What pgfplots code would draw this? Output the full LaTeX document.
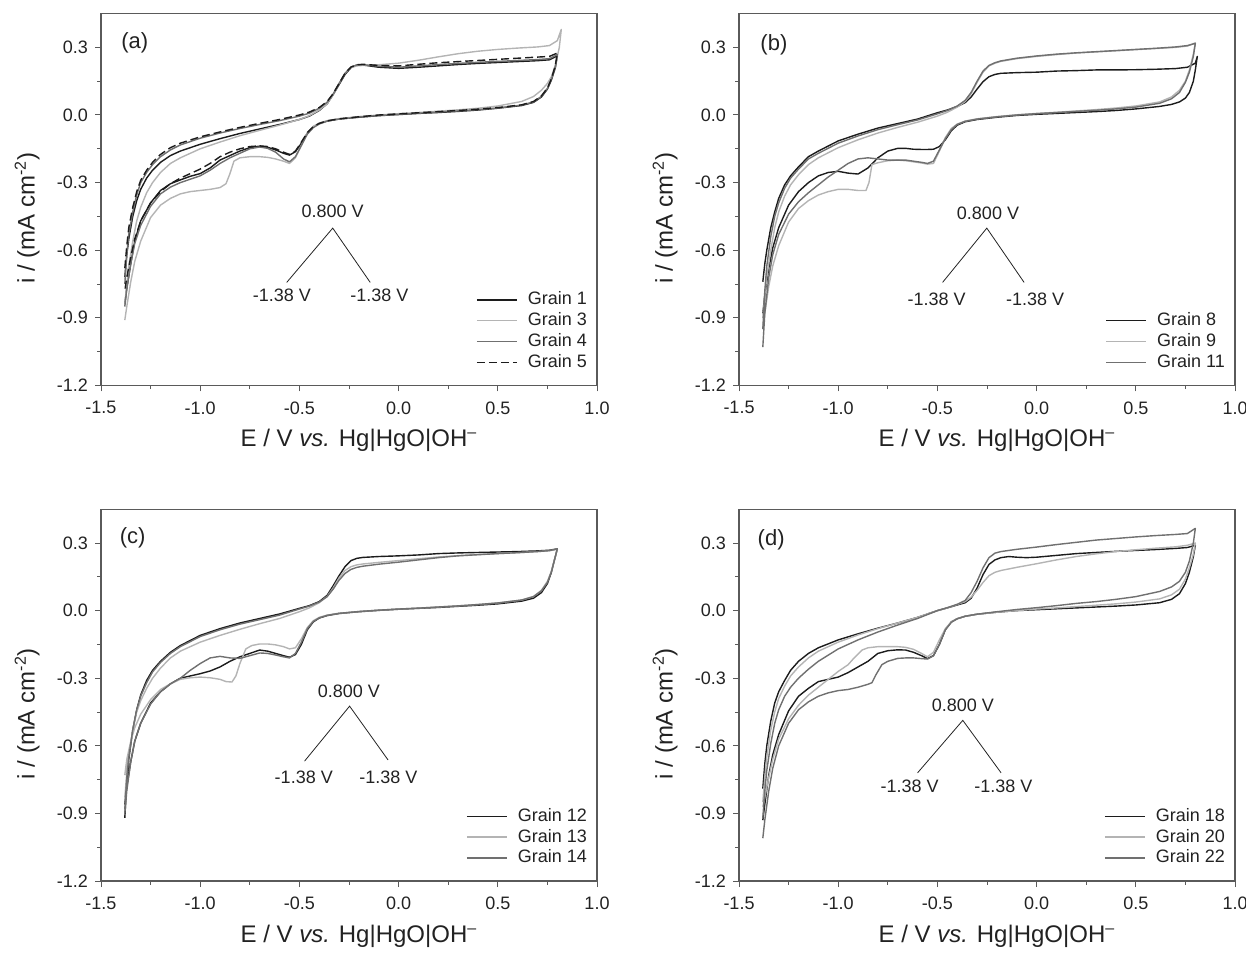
\documentclass[border=0pt]{standalone}
\usepackage{fontspec}
\setmainfont{Liberation Sans}
\usepackage{pgfplots}
\pgfplotsset{compat=1.18}
\definecolor{cblack}{HTML}{1C1C1C}
\definecolor{clight}{HTML}{B4B4B4}
\definecolor{cmed}{HTML}{707070}
\definecolor{caxis}{HTML}{5A5A5A}
\definecolor{ctext}{HTML}{222222}
\tikzset{ann/.style={font=\fontsize{9}{10}\selectfont, text=ctext}}
\pgfplotsset{
 cv/.style={
  scale only axis, width=248pt, height=185.9pt,
  xmin=-1.5, xmax=1.0, ymin=-1.2, ymax=0.45,
  xtick={-1.5,-1,-0.5,0,0.5,1}, minor x tick num=1,
  ytick={-1.2,-0.9,-0.6,-0.3,0,0.3}, minor y tick num=1,
  xtick pos=left, ytick pos=left, tick align=outside,
  major tick length=3pt, minor tick length=1.8pt,
  axis line style={caxis, line width=0.6pt},
  every tick/.style={caxis, line width=0.5pt},
  /pgf/number format/fixed, /pgf/number format/fixed zerofill,
  /pgf/number format/precision=1, /pgf/number format/assume math mode=true,
  xticklabel style={font=\fontsize{9}{10}\selectfont, text=ctext, yshift=-1.5pt},
  yticklabel style={font=\fontsize{9}{10}\selectfont, text=ctext},
  xlabel={E / V \textit{vs.} Hg|HgO|OH\textsuperscript{\textendash}},
  ylabel={i / (mA cm\textsuperscript{-2})},
  xlabel style={at={(axis description cs:0.52,-0.148)}, anchor=center, font=\fontsize{12}{14}\selectfont, text=ctext},
  ylabel style={at={(axis description cs:-0.149,0.45)}, anchor=center, font=\fontsize{12}{14}\selectfont, text=ctext},
  legend style={at={(0.999,0.02)}, anchor=south east, draw=none, fill=none,
    font=\fontsize{9}{10}\selectfont, text=ctext, row sep=-0.8pt,
    nodes={inner sep=1.6pt},
    /tikz/every odd column/.append style={column sep=3.5pt}},
  legend cell align=left,
  legend image code/.code={\draw[#1] (0pt,0pt) -- (20pt,0pt);},
  every axis plot/.append style={line width=0.7pt, line join=round},
 },
}
\begin{document}
\begin{tikzpicture}
\useasboundingbox (0pt,0pt) rectangle (623pt,-476pt);
% ---------------- (a)
\begin{axis}[cv, at={(50.5pt,-192.7pt)}, anchor=south west]
\addplot[cblack] coordinates {(-1.38,-0.72)(-1.37,-0.62)(-1.36,-0.55)(-1.34,-0.45)(-1.32,-0.38)(-1.30,-0.33)(-1.27,-0.28)(-1.24,-0.245)(-1.20,-0.21)(-1.15,-0.18)(-1.10,-0.16)(-1.00,-0.13)(-0.90,-0.105)(-0.80,-0.082)(-0.70,-0.062)(-0.60,-0.042)(-0.50,-0.02)(-0.45,-0.005)(-0.40,0.02)(-0.36,0.05)(-0.33,0.09)(-0.30,0.135)(-0.27,0.18)(-0.24,0.21)(-0.21,0.222)(-0.18,0.222)(-0.10,0.212)(0.00,0.207)(0.10,0.212)(0.20,0.218)(0.30,0.224)(0.40,0.229)(0.50,0.233)(0.60,0.237)(0.70,0.241)(0.76,0.245)(0.80,0.262)
(0.79,0.21)(0.77,0.155)(0.75,0.115)(0.72,0.08)(0.68,0.056)(0.62,0.042)(0.50,0.03)(0.40,0.022)(0.30,0.016)(0.20,0.011)(0.10,0.007)(0.00,0.002)(-0.10,-0.003)(-0.20,-0.01)(-0.30,-0.018)(-0.36,-0.027)(-0.40,-0.038)(-0.43,-0.053)(-0.46,-0.08)(-0.49,-0.125)(-0.52,-0.163)(-0.55,-0.178)(-0.58,-0.17)(-0.62,-0.155)(-0.66,-0.143)(-0.70,-0.138)(-0.75,-0.145)(-0.80,-0.16)(-0.85,-0.18)(-0.90,-0.2)(-0.95,-0.235)(-1.00,-0.26)(-1.05,-0.272)(-1.10,-0.288)(-1.15,-0.305)(-1.20,-0.335)(-1.25,-0.39)(-1.30,-0.47)(-1.33,-0.56)(-1.35,-0.66)(-1.37,-0.77)(-1.38,-0.84)};
\addlegendentry{Grain 1}
\addplot[clight] coordinates {(-1.38,-0.84)(-1.37,-0.75)(-1.36,-0.67)(-1.34,-0.56)(-1.32,-0.47)(-1.30,-0.41)(-1.27,-0.345)(-1.24,-0.30)(-1.20,-0.255)(-1.15,-0.215)(-1.10,-0.19)(-1.00,-0.15)(-0.90,-0.12)(-0.80,-0.092)(-0.70,-0.068)(-0.60,-0.045)(-0.50,-0.02)(-0.45,-0.003)(-0.40,0.022)(-0.36,0.05)(-0.33,0.09)(-0.30,0.14)(-0.27,0.185)(-0.24,0.21)(-0.21,0.218)(-0.18,0.22)(-0.10,0.223)(0.00,0.23)(0.10,0.243)(0.20,0.258)(0.30,0.272)(0.40,0.283)(0.50,0.291)(0.60,0.297)(0.70,0.302)(0.76,0.308)(0.80,0.33)(0.82,0.38)
(0.81,0.3)(0.79,0.22)(0.77,0.17)(0.75,0.14)(0.72,0.11)(0.68,0.082)(0.62,0.06)(0.50,0.04)(0.40,0.03)(0.30,0.023)(0.20,0.017)(0.10,0.011)(0.00,0.006)(-0.10,0.0)(-0.20,-0.007)(-0.30,-0.016)(-0.36,-0.025)(-0.40,-0.036)(-0.43,-0.05)(-0.46,-0.08)(-0.49,-0.135)(-0.52,-0.19)(-0.55,-0.215)(-0.58,-0.205)(-0.62,-0.195)(-0.66,-0.188)(-0.70,-0.185)(-0.75,-0.185)(-0.80,-0.19)(-0.83,-0.205)(-0.85,-0.26)(-0.87,-0.305)(-0.90,-0.322)(-0.95,-0.33)(-1.00,-0.335)(-1.05,-0.34)(-1.10,-0.35)(-1.15,-0.37)(-1.20,-0.4)(-1.25,-0.455)(-1.30,-0.56)(-1.33,-0.65)(-1.35,-0.74)(-1.37,-0.85)(-1.38,-0.91)};
\addlegendentry{Grain 3}
\addplot[cmed] coordinates {(-1.38,-0.75)(-1.37,-0.62)(-1.36,-0.53)(-1.34,-0.43)(-1.32,-0.355)(-1.30,-0.30)(-1.27,-0.255)(-1.24,-0.22)(-1.20,-0.185)(-1.15,-0.155)(-1.10,-0.133)(-1.00,-0.103)(-0.90,-0.08)(-0.80,-0.06)(-0.70,-0.042)(-0.60,-0.025)(-0.50,-0.005)(-0.45,0.008)(-0.40,0.03)(-0.36,0.057)(-0.33,0.093)(-0.30,0.14)(-0.27,0.185)(-0.24,0.213)(-0.21,0.222)(-0.18,0.223)(-0.10,0.217)(0.00,0.212)(0.10,0.218)(0.20,0.224)(0.30,0.229)(0.40,0.234)(0.50,0.238)(0.60,0.242)(0.70,0.246)(0.76,0.25)(0.80,0.268)
(0.79,0.215)(0.77,0.158)(0.75,0.118)(0.72,0.083)(0.68,0.058)(0.62,0.044)(0.50,0.031)(0.40,0.024)(0.30,0.018)(0.20,0.013)(0.10,0.008)(0.00,0.003)(-0.10,-0.002)(-0.20,-0.009)(-0.30,-0.018)(-0.36,-0.027)(-0.40,-0.04)(-0.43,-0.056)(-0.46,-0.085)(-0.49,-0.135)(-0.52,-0.185)(-0.55,-0.208)(-0.58,-0.195)(-0.62,-0.165)(-0.66,-0.148)(-0.70,-0.142)(-0.75,-0.15)(-0.80,-0.17)(-0.85,-0.19)(-0.90,-0.215)(-0.95,-0.245)(-1.00,-0.27)(-1.05,-0.285)(-1.10,-0.3)(-1.15,-0.32)(-1.20,-0.35)(-1.25,-0.405)(-1.30,-0.49)(-1.33,-0.57)(-1.35,-0.66)(-1.37,-0.77)(-1.38,-0.85)};
\addlegendentry{Grain 4}
\addplot[cblack, dash pattern=on 4pt off 2pt] coordinates {(-1.38,-0.68)(-1.37,-0.58)(-1.36,-0.50)(-1.34,-0.41)(-1.32,-0.34)(-1.30,-0.29)(-1.27,-0.245)(-1.24,-0.21)(-1.20,-0.175)(-1.15,-0.145)(-1.10,-0.125)(-1.00,-0.097)(-0.90,-0.075)(-0.80,-0.055)(-0.70,-0.037)(-0.60,-0.02)(-0.50,0.0)(-0.45,0.013)(-0.40,0.033)(-0.36,0.06)(-0.33,0.095)(-0.30,0.14)(-0.27,0.185)(-0.24,0.213)(-0.21,0.223)(-0.18,0.225)(-0.10,0.22)(0.00,0.218)(0.10,0.225)(0.20,0.232)(0.30,0.237)(0.40,0.242)(0.50,0.247)(0.60,0.252)(0.70,0.257)(0.76,0.26)(0.80,0.275)
(0.79,0.22)(0.77,0.16)(0.75,0.12)(0.72,0.085)(0.68,0.06)(0.62,0.045)(0.50,0.033)(0.40,0.026)(0.30,0.02)(0.20,0.015)(0.10,0.01)(0.00,0.005)(-0.10,0.0)(-0.20,-0.008)(-0.30,-0.017)(-0.36,-0.026)(-0.40,-0.037)(-0.43,-0.052)(-0.46,-0.078)(-0.49,-0.12)(-0.52,-0.16)(-0.55,-0.175)(-0.58,-0.165)(-0.62,-0.15)(-0.66,-0.14)(-0.70,-0.137)(-0.75,-0.14)(-0.80,-0.15)(-0.85,-0.165)(-0.90,-0.185)(-0.95,-0.215)(-1.00,-0.24)(-1.05,-0.26)(-1.10,-0.28)(-1.15,-0.305)(-1.20,-0.34)(-1.25,-0.39)(-1.30,-0.47)(-1.33,-0.55)(-1.35,-0.63)(-1.37,-0.72)(-1.38,-0.78)};
\addlegendentry{Grain 5}
\node[font=\fontsize{11}{12}\selectfont, text=ctext] at (axis cs:-1.33,0.32) {(a)};
\node[ann] at (axis cs:-0.332,-0.428) {0.800 V};
\draw[line width=0.4pt, ctext] (axis cs:-0.564,-0.743) -- (axis cs:-0.332,-0.502) -- (axis cs:-0.143,-0.743);
\node[ann] at (axis cs:-0.588,-0.802) {-1.38 V};
\node[ann] at (axis cs:-0.097,-0.802) {-1.38 V};
\end{axis}
% ---------------- (b)
\begin{axis}[cv, at={(369.5pt,-192.7pt)}, anchor=south west]
\addplot[cblack] coordinates {(-1.38,-0.74)(-1.37,-0.66)(-1.36,-0.6)(-1.34,-0.5)(-1.32,-0.43)(-1.30,-0.37)(-1.27,-0.31)(-1.24,-0.27)(-1.20,-0.23)(-1.15,-0.185)(-1.10,-0.16)(-1.00,-0.115)(-0.90,-0.085)(-0.80,-0.058)(-0.70,-0.038)(-0.60,-0.018)(-0.50,0.01)(-0.45,0.022)(-0.40,0.038)(-0.36,0.055)(-0.33,0.08)(-0.30,0.115)(-0.27,0.148)(-0.24,0.17)(-0.21,0.18)(-0.18,0.185)(-0.10,0.188)(0.00,0.19)(0.10,0.195)(0.20,0.197)(0.30,0.2)(0.40,0.2)(0.50,0.201)(0.60,0.203)(0.70,0.206)(0.76,0.212)(0.80,0.23)(0.81,0.26)
(0.80,0.2)(0.79,0.15)(0.77,0.1)(0.75,0.075)(0.72,0.058)(0.68,0.047)(0.62,0.038)(0.50,0.027)(0.40,0.02)(0.30,0.015)(0.20,0.011)(0.10,0.007)(0.00,0.003)(-0.10,-0.002)(-0.20,-0.01)(-0.30,-0.02)(-0.36,-0.03)(-0.40,-0.045)(-0.43,-0.07)(-0.46,-0.11)(-0.49,-0.14)(-0.52,-0.152)(-0.55,-0.153)(-0.58,-0.153)(-0.62,-0.152)(-0.66,-0.148)(-0.70,-0.148)(-0.75,-0.16)(-0.80,-0.19)(-0.85,-0.235)(-0.90,-0.262)(-0.95,-0.258)(-1.00,-0.25)(-1.05,-0.255)(-1.10,-0.27)(-1.15,-0.3)(-1.20,-0.34)(-1.25,-0.4)(-1.30,-0.5)(-1.33,-0.59)(-1.35,-0.68)(-1.37,-0.8)(-1.38,-0.88)};
\addlegendentry{Grain 8}
\addplot[clight] coordinates {(-1.38,-0.9)(-1.37,-0.8)(-1.36,-0.72)(-1.34,-0.6)(-1.32,-0.5)(-1.30,-0.43)(-1.27,-0.36)(-1.24,-0.31)(-1.20,-0.265)(-1.15,-0.22)(-1.10,-0.19)(-1.00,-0.145)(-0.90,-0.11)(-0.80,-0.08)(-0.70,-0.055)(-0.60,-0.032)(-0.50,-0.005)(-0.45,0.012)(-0.40,0.035)(-0.36,0.06)(-0.33,0.095)(-0.30,0.145)(-0.27,0.19)(-0.24,0.218)(-0.21,0.23)(-0.18,0.238)(-0.10,0.25)(0.00,0.26)(0.10,0.268)(0.20,0.275)(0.30,0.28)(0.40,0.285)(0.50,0.29)(0.60,0.295)(0.70,0.3)(0.76,0.306)(0.80,0.32)
(0.79,0.27)(0.77,0.2)(0.75,0.15)(0.72,0.11)(0.68,0.08)(0.62,0.058)(0.50,0.04)(0.40,0.031)(0.30,0.024)(0.20,0.018)(0.10,0.012)(0.00,0.007)(-0.10,0.001)(-0.20,-0.007)(-0.30,-0.017)(-0.36,-0.027)(-0.40,-0.04)(-0.43,-0.06)(-0.46,-0.1)(-0.49,-0.16)(-0.52,-0.215)(-0.55,-0.218)(-0.58,-0.213)(-0.62,-0.208)(-0.66,-0.203)(-0.70,-0.2)(-0.75,-0.203)(-0.80,-0.212)(-0.83,-0.22)(-0.845,-0.3)(-0.86,-0.335)(-0.90,-0.335)(-0.95,-0.33)(-1.00,-0.33)(-1.05,-0.34)(-1.10,-0.355)(-1.15,-0.38)(-1.20,-0.415)(-1.25,-0.475)(-1.30,-0.58)(-1.33,-0.67)(-1.35,-0.76)(-1.37,-0.88)(-1.38,-0.95)};
\addlegendentry{Grain 9}
\addplot[cmed] coordinates {(-1.38,-0.95)(-1.37,-0.78)(-1.36,-0.67)(-1.34,-0.54)(-1.32,-0.45)(-1.30,-0.39)(-1.27,-0.325)(-1.24,-0.28)(-1.20,-0.24)(-1.15,-0.195)(-1.10,-0.17)(-1.00,-0.125)(-0.90,-0.093)(-0.80,-0.065)(-0.70,-0.043)(-0.60,-0.022)(-0.50,0.005)(-0.45,0.02)(-0.40,0.04)(-0.36,0.065)(-0.33,0.1)(-0.30,0.15)(-0.27,0.195)(-0.24,0.22)(-0.21,0.232)(-0.18,0.24)(-0.10,0.252)(0.00,0.262)(0.10,0.27)(0.20,0.276)(0.30,0.281)(0.40,0.286)(0.50,0.291)(0.60,0.296)(0.70,0.302)(0.76,0.308)(0.80,0.318)
(0.79,0.26)(0.77,0.19)(0.75,0.145)(0.72,0.1)(0.68,0.072)(0.62,0.052)(0.50,0.035)(0.40,0.027)(0.30,0.021)(0.20,0.016)(0.10,0.011)(0.00,0.006)(-0.10,0.0)(-0.20,-0.008)(-0.30,-0.018)(-0.36,-0.028)(-0.40,-0.042)(-0.43,-0.065)(-0.46,-0.105)(-0.49,-0.155)(-0.52,-0.205)(-0.55,-0.215)(-0.58,-0.21)(-0.62,-0.205)(-0.66,-0.2)(-0.70,-0.2)(-0.75,-0.2)(-0.80,-0.195)(-0.85,-0.19)(-0.90,-0.195)(-0.95,-0.215)(-1.00,-0.245)(-1.05,-0.275)(-1.10,-0.31)(-1.15,-0.345)(-1.20,-0.385)(-1.25,-0.44)(-1.30,-0.53)(-1.33,-0.62)(-1.35,-0.72)(-1.37,-0.88)(-1.38,-1.03)};
\addlegendentry{Grain 11}
\node[font=\fontsize{11}{12}\selectfont, text=ctext] at (axis cs:-1.324,0.31) {(b)};
\node[ann] at (axis cs:-0.245,-0.436) {0.800 V};
\draw[line width=0.4pt, ctext] (axis cs:-0.474,-0.743) -- (axis cs:-0.251,-0.502) -- (axis cs:-0.063,-0.743);
\node[ann] at (axis cs:-0.504,-0.82) {-1.38 V};
\node[ann] at (axis cs:-0.008,-0.82) {-1.38 V};
\end{axis}
% ---------------- (c)
\begin{axis}[cv, at={(50.5pt,-440.5pt)}, anchor=south west]
\addplot[cblack] coordinates {(-1.38,-0.92)(-1.37,-0.76)(-1.36,-0.66)(-1.34,-0.53)(-1.32,-0.44)(-1.30,-0.375)(-1.27,-0.31)(-1.24,-0.265)(-1.20,-0.225)(-1.15,-0.185)(-1.10,-0.155)(-1.00,-0.11)(-0.90,-0.08)(-0.80,-0.055)(-0.70,-0.035)(-0.60,-0.015)(-0.50,0.01)(-0.45,0.022)(-0.40,0.04)(-0.36,0.068)(-0.33,0.11)(-0.30,0.155)(-0.27,0.195)(-0.24,0.222)(-0.21,0.232)(-0.18,0.236)(-0.10,0.24)(0.00,0.243)(0.10,0.247)(0.20,0.253)(0.30,0.256)(0.40,0.258)(0.50,0.26)(0.60,0.262)(0.70,0.265)(0.76,0.268)(0.80,0.274)
(0.79,0.24)(0.77,0.17)(0.75,0.12)(0.72,0.08)(0.68,0.055)(0.62,0.042)(0.50,0.03)(0.40,0.024)(0.30,0.019)(0.20,0.014)(0.10,0.01)(0.00,0.006)(-0.10,0.001)(-0.20,-0.005)(-0.30,-0.013)(-0.36,-0.022)(-0.40,-0.033)(-0.43,-0.05)(-0.46,-0.085)(-0.49,-0.15)(-0.52,-0.195)(-0.55,-0.207)(-0.58,-0.2)(-0.62,-0.19)(-0.66,-0.18)(-0.70,-0.175)(-0.75,-0.19)(-0.80,-0.205)(-0.85,-0.225)(-0.90,-0.25)(-0.95,-0.268)(-1.00,-0.28)(-1.05,-0.29)(-1.10,-0.3)(-1.15,-0.325)(-1.20,-0.36)(-1.25,-0.41)(-1.30,-0.5)(-1.33,-0.58)(-1.35,-0.67)(-1.37,-0.78)(-1.38,-0.86)};
\addlegendentry{Grain 12}
\addplot[clight] coordinates {(-1.38,-0.83)(-1.37,-0.72)(-1.36,-0.64)(-1.34,-0.53)(-1.32,-0.45)(-1.30,-0.4)(-1.27,-0.345)(-1.24,-0.3)(-1.20,-0.255)(-1.15,-0.21)(-1.10,-0.18)(-1.00,-0.14)(-0.90,-0.11)(-0.80,-0.083)(-0.70,-0.058)(-0.60,-0.035)(-0.50,-0.005)(-0.45,0.012)(-0.40,0.035)(-0.36,0.063)(-0.33,0.1)(-0.30,0.145)(-0.27,0.178)(-0.24,0.195)(-0.21,0.203)(-0.18,0.207)(-0.10,0.214)(0.00,0.222)(0.10,0.23)(0.20,0.238)(0.30,0.244)(0.40,0.249)(0.50,0.253)(0.60,0.257)(0.70,0.262)(0.76,0.266)(0.80,0.272)
(0.79,0.24)(0.77,0.175)(0.75,0.13)(0.72,0.09)(0.68,0.063)(0.62,0.047)(0.50,0.034)(0.40,0.027)(0.30,0.021)(0.20,0.016)(0.10,0.011)(0.00,0.007)(-0.10,0.002)(-0.20,-0.004)(-0.30,-0.012)(-0.36,-0.02)(-0.40,-0.03)(-0.43,-0.045)(-0.46,-0.075)(-0.49,-0.125)(-0.52,-0.165)(-0.55,-0.17)(-0.58,-0.16)(-0.62,-0.152)(-0.66,-0.148)(-0.70,-0.148)(-0.74,-0.155)(-0.77,-0.17)(-0.80,-0.235)(-0.82,-0.29)(-0.84,-0.317)(-0.87,-0.315)(-0.90,-0.305)(-0.95,-0.298)(-1.00,-0.295)(-1.05,-0.298)(-1.10,-0.305)(-1.15,-0.325)(-1.20,-0.35)(-1.25,-0.395)(-1.30,-0.46)(-1.33,-0.52)(-1.35,-0.58)(-1.37,-0.66)(-1.38,-0.73)};
\addlegendentry{Grain 13}
\addplot[cmed] coordinates {(-1.38,-0.88)(-1.37,-0.74)(-1.36,-0.65)(-1.34,-0.53)(-1.32,-0.44)(-1.30,-0.38)(-1.27,-0.32)(-1.24,-0.272)(-1.20,-0.23)(-1.15,-0.19)(-1.10,-0.16)(-1.00,-0.115)(-0.90,-0.085)(-0.80,-0.06)(-0.70,-0.04)(-0.60,-0.02)(-0.50,0.007)(-0.45,0.02)(-0.40,0.038)(-0.36,0.062)(-0.33,0.095)(-0.30,0.135)(-0.27,0.165)(-0.24,0.183)(-0.21,0.192)(-0.18,0.197)(-0.10,0.206)(0.00,0.215)(0.10,0.225)(0.20,0.235)(0.30,0.243)(0.40,0.248)(0.50,0.253)(0.60,0.257)(0.70,0.262)(0.76,0.266)(0.80,0.274)
(0.79,0.24)(0.77,0.172)(0.75,0.125)(0.72,0.088)(0.68,0.062)(0.62,0.047)(0.50,0.034)(0.40,0.027)(0.30,0.021)(0.20,0.016)(0.10,0.011)(0.00,0.007)(-0.10,0.002)(-0.20,-0.004)(-0.30,-0.012)(-0.36,-0.021)(-0.40,-0.032)(-0.43,-0.048)(-0.46,-0.08)(-0.49,-0.14)(-0.52,-0.19)(-0.55,-0.21)(-0.58,-0.205)(-0.62,-0.197)(-0.66,-0.19)(-0.70,-0.188)(-0.75,-0.2)(-0.80,-0.212)(-0.85,-0.21)(-0.90,-0.203)(-0.95,-0.21)(-1.00,-0.235)(-1.05,-0.265)(-1.10,-0.3)(-1.15,-0.325)(-1.20,-0.36)(-1.25,-0.415)(-1.30,-0.5)(-1.33,-0.58)(-1.35,-0.67)(-1.37,-0.8)(-1.38,-0.9)};
\addlegendentry{Grain 14}
\node[font=\fontsize{11}{12}\selectfont, text=ctext] at (axis cs:-1.34,0.322) {(c)};
\node[ann] at (axis cs:-0.251,-0.357) {0.800 V};
\draw[line width=0.4pt, ctext] (axis cs:-0.474,-0.668) -- (axis cs:-0.247,-0.424) -- (axis cs:-0.053,-0.663);
\node[ann] at (axis cs:-0.478,-0.741) {-1.38 V};
\node[ann] at (axis cs:-0.051,-0.741) {-1.38 V};
\end{axis}
% ---------------- (d)
\begin{axis}[cv, at={(369.5pt,-440.5pt)}, anchor=south west]
\addplot[cblack] coordinates {(-1.38,-0.79)(-1.37,-0.68)(-1.36,-0.6)(-1.34,-0.49)(-1.32,-0.41)(-1.30,-0.36)(-1.27,-0.31)(-1.24,-0.265)(-1.20,-0.225)(-1.15,-0.19)(-1.10,-0.165)(-1.00,-0.13)(-0.90,-0.103)(-0.80,-0.078)(-0.70,-0.055)(-0.60,-0.03)(-0.50,0.0)(-0.45,0.012)(-0.40,0.025)(-0.36,0.035)(-0.33,0.055)(-0.30,0.1)(-0.27,0.16)(-0.24,0.205)(-0.21,0.225)(-0.18,0.235)(-0.14,0.24)(-0.10,0.237)(-0.05,0.235)(0.00,0.237)(0.10,0.245)(0.20,0.253)(0.30,0.258)(0.40,0.263)(0.50,0.267)(0.60,0.271)(0.70,0.276)(0.76,0.28)(0.80,0.29)
(0.79,0.24)(0.77,0.17)(0.75,0.12)(0.72,0.075)(0.68,0.05)(0.62,0.035)(0.50,0.025)(0.40,0.02)(0.30,0.016)(0.20,0.012)(0.10,0.008)(0.00,0.004)(-0.10,0.0)(-0.20,-0.007)(-0.30,-0.016)(-0.36,-0.025)(-0.40,-0.036)(-0.43,-0.05)(-0.46,-0.085)(-0.49,-0.15)(-0.52,-0.2)(-0.55,-0.213)(-0.58,-0.2)(-0.62,-0.185)(-0.66,-0.175)(-0.70,-0.174)(-0.75,-0.178)(-0.80,-0.19)(-0.85,-0.225)(-0.90,-0.25)(-0.95,-0.275)(-1.00,-0.295)(-1.05,-0.305)(-1.10,-0.315)(-1.15,-0.345)(-1.20,-0.38)(-1.25,-0.445)(-1.30,-0.55)(-1.33,-0.64)(-1.35,-0.73)(-1.37,-0.86)(-1.38,-0.93)};
\addlegendentry{Grain 18}
\addplot[clight] coordinates {(-1.38,-0.85)(-1.37,-0.74)(-1.36,-0.65)(-1.34,-0.53)(-1.32,-0.45)(-1.30,-0.39)(-1.27,-0.335)(-1.24,-0.29)(-1.20,-0.25)(-1.15,-0.21)(-1.10,-0.18)(-1.00,-0.14)(-0.90,-0.108)(-0.80,-0.08)(-0.70,-0.055)(-0.60,-0.03)(-0.50,0.0)(-0.45,0.012)(-0.40,0.027)(-0.36,0.04)(-0.33,0.06)(-0.30,0.09)(-0.27,0.125)(-0.24,0.155)(-0.21,0.17)(-0.18,0.178)(-0.10,0.192)(0.00,0.208)(0.10,0.225)(0.20,0.24)(0.30,0.252)(0.40,0.262)(0.50,0.27)(0.60,0.277)(0.70,0.283)(0.76,0.29)(0.80,0.3)
(0.79,0.25)(0.77,0.19)(0.75,0.14)(0.72,0.095)(0.68,0.07)(0.62,0.052)(0.50,0.038)(0.40,0.03)(0.30,0.024)(0.20,0.018)(0.10,0.012)(0.00,0.007)(-0.10,0.0)(-0.20,-0.007)(-0.30,-0.016)(-0.36,-0.025)(-0.40,-0.036)(-0.43,-0.05)(-0.46,-0.08)(-0.49,-0.13)(-0.52,-0.185)(-0.55,-0.205)(-0.58,-0.19)(-0.62,-0.172)(-0.66,-0.163)(-0.70,-0.16)(-0.75,-0.16)(-0.80,-0.16)(-0.85,-0.165)(-0.88,-0.175)(-0.92,-0.21)(-0.95,-0.24)(-1.00,-0.27)(-1.05,-0.305)(-1.10,-0.34)(-1.15,-0.375)(-1.20,-0.42)(-1.25,-0.48)(-1.30,-0.57)(-1.33,-0.66)(-1.35,-0.74)(-1.37,-0.83)(-1.38,-0.87)};
\addlegendentry{Grain 20}
\addplot[cmed] coordinates {(-1.38,-0.92)(-1.37,-0.8)(-1.36,-0.71)(-1.34,-0.59)(-1.32,-0.5)(-1.30,-0.44)(-1.27,-0.38)(-1.24,-0.34)(-1.20,-0.3)(-1.15,-0.26)(-1.10,-0.225)(-1.00,-0.17)(-0.90,-0.13)(-0.80,-0.095)(-0.70,-0.064)(-0.60,-0.035)(-0.50,0.0)(-0.45,0.013)(-0.40,0.028)(-0.36,0.045)(-0.33,0.08)(-0.30,0.13)(-0.27,0.19)(-0.24,0.235)(-0.21,0.255)(-0.18,0.262)(-0.10,0.272)(0.00,0.282)(0.10,0.293)(0.20,0.303)(0.30,0.313)(0.40,0.32)(0.50,0.327)(0.60,0.333)(0.70,0.338)(0.76,0.342)(0.80,0.365)
(0.79,0.3)(0.77,0.22)(0.75,0.17)(0.72,0.13)(0.68,0.105)(0.62,0.085)(0.50,0.062)(0.40,0.05)(0.30,0.04)(0.20,0.032)(0.10,0.022)(0.00,0.013)(-0.10,0.005)(-0.20,-0.005)(-0.30,-0.016)(-0.36,-0.025)(-0.40,-0.036)(-0.43,-0.052)(-0.46,-0.085)(-0.49,-0.15)(-0.52,-0.2)(-0.55,-0.215)(-0.58,-0.213)(-0.62,-0.21)(-0.66,-0.21)(-0.70,-0.212)(-0.75,-0.225)(-0.78,-0.24)(-0.81,-0.285)(-0.83,-0.32)(-0.85,-0.327)(-0.90,-0.34)(-0.95,-0.35)(-1.00,-0.355)(-1.05,-0.365)(-1.10,-0.38)(-1.15,-0.405)(-1.20,-0.44)(-1.25,-0.5)(-1.30,-0.6)(-1.33,-0.7)(-1.35,-0.8)(-1.37,-0.93)(-1.38,-1.01)};
\addlegendentry{Grain 22}
\node[font=\fontsize{11}{12}\selectfont, text=ctext] at (axis cs:-1.338,0.315) {(d)};
\node[ann] at (axis cs:-0.372,-0.421) {0.800 V};
\draw[line width=0.4pt, ctext] (axis cs:-0.6,-0.72) -- (axis cs:-0.372,-0.487) -- (axis cs:-0.179,-0.72);
\node[ann] at (axis cs:-0.64,-0.778) {-1.38 V};
\node[ann] at (axis cs:-0.168,-0.778) {-1.38 V};
\end{axis}
\end{tikzpicture}
\end{document}
